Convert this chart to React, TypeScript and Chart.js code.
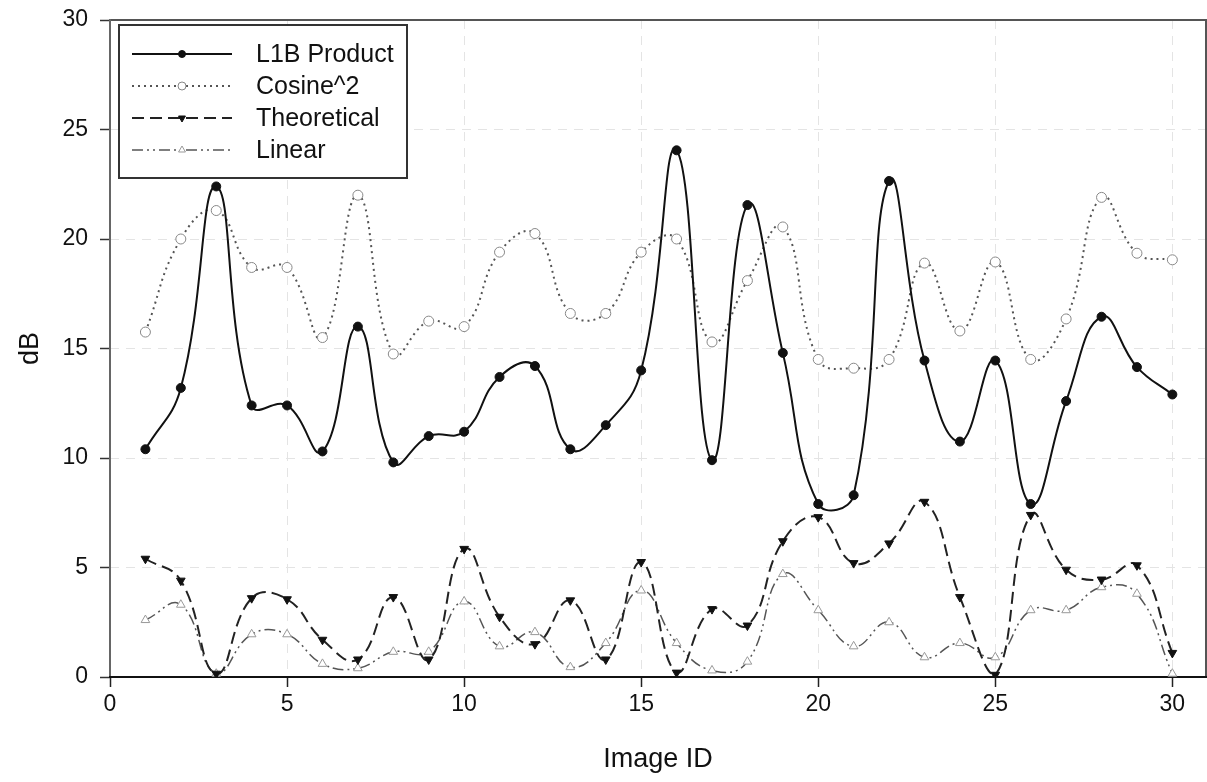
import React, { useEffect, useRef } from 'react';
import { Chart, registerables } from 'chart.js';
import { drawPoint } from 'chart.js/helpers';

Chart.register(...registerables);

const imageIds = [1, 2, 3, 4, 5, 6, 7, 8, 9, 10, 11, 12, 13, 14, 15, 16, 17, 18, 19, 20, 21, 22, 23, 24, 25, 26, 27, 28, 29, 30];
const l1bProduct = [10.4, 13.2, 22.4, 12.4, 12.4, 10.3, 16.0, 9.8, 11.0, 11.2, 13.7, 14.2, 10.4, 11.5, 14.0, 24.05, 9.9, 21.55, 14.8, 7.9, 8.3, 22.65, 14.45, 10.75, 14.45, 7.9, 12.6, 16.45, 14.15, 12.9];
const cosine2 = [15.75, 20.0, 21.3, 18.7, 18.7, 15.5, 22.0, 14.75, 16.25, 16.0, 19.4, 20.25, 16.6, 16.6, 19.4, 20.0, 15.3, 18.1, 20.55, 14.5, 14.1, 14.5, 18.9, 15.8, 18.95, 14.5, 16.35, 21.9, 19.35, 19.05];
const theoretical = [5.4, 4.4, 0.15, 3.6, 3.55, 1.7, 0.8, 3.65, 0.8, 5.85, 2.75, 1.5, 3.5, 0.8, 5.25, 0.2, 3.1, 2.35, 6.2, 7.3, 5.2, 6.1, 8.0, 3.65, 0.1, 7.4, 4.9, 4.45, 5.1, 1.1];
const linear = [2.6, 3.3, 0.15, 1.95, 1.95, 0.6, 0.4, 1.15, 1.15, 3.45, 1.4, 2.05, 0.45, 1.55, 3.95, 1.55, 0.3, 0.7, 4.7, 3.05, 1.4, 2.5, 0.9, 1.55, 0.9, 3.05, 3.05, 4.1, 3.8, 0.15];
const seriesNames = ['L1B Product', 'Cosine^2', 'Theoretical', 'Linear'];
const xTickValues = [0, 5, 10, 15, 20, 25, 30];
const yTickValues = [0, 5, 10, 15, 20, 25, 30];

const FONT = '"Liberation Sans", Arial, sans-serif';

const toPoints = (ys: number[]) => ys.map((y, i) => ({ x: imageIds[i], y }));

const framePlugin = {
  id: 'frame',
  beforeDatasetsDraw(chart: any) {
    const { ctx, chartArea: a } = chart;
    ctx.save();
    ctx.lineWidth = 2;
    ctx.strokeStyle = '#555';
    ctx.beginPath();
    ctx.moveTo(a.left, a.top);
    ctx.lineTo(a.right, a.top);
    ctx.lineTo(a.right, a.bottom);
    ctx.stroke();
    ctx.strokeStyle = '#666';
    ctx.beginPath();
    ctx.moveTo(a.left, a.top - 1);
    ctx.lineTo(a.left, a.bottom);
    ctx.stroke();
    ctx.strokeStyle = '#111';
    ctx.beginPath();
    ctx.moveTo(a.left - 1, a.bottom);
    ctx.lineTo(a.right + 1, a.bottom);
    ctx.stroke();
    ctx.restore();
  },
};

const legendPlugin = {
  id: 'boxLegend',
  afterDraw(chart: any) {
    const { ctx, chartArea: a } = chart;
    const x0 = a.left + 9;
    const y0 = a.top + 5;
    const w = 288;
    const h = 153;
    ctx.save();
    ctx.fillStyle = '#fff';
    ctx.fillRect(x0, y0, w, h);
    ctx.strokeStyle = '#333';
    ctx.lineWidth = 2;
    ctx.strokeRect(x0, y0, w, h);
    chart.data.datasets.forEach((ds: any, i: number) => {
      const y = y0 + 29 + i * 32;
      const lx1 = x0 + 13;
      const lx2 = x0 + 113;
      ctx.save();
      ctx.strokeStyle = ds.borderColor;
      ctx.lineWidth = ds.borderWidth;
      ctx.setLineDash(ds.borderDash || []);
      ctx.beginPath();
      ctx.moveTo(lx1, y);
      ctx.lineTo(lx2, y);
      ctx.stroke();
      ctx.setLineDash([]);
      ctx.fillStyle = ds.pointBackgroundColor;
      ctx.strokeStyle = ds.pointBorderColor;
      ctx.lineWidth = ds.pointBorderWidth;
      drawPoint(ctx, { pointStyle: ds.pointStyle, rotation: ds.pointRotation || 0, radius: ds.pointRadius - 1, borderWidth: ds.pointBorderWidth }, (lx1 + lx2) / 2, y);
      ctx.restore();
      ctx.fillStyle = '#111';
      ctx.font = `25px ${FONT}`;
      ctx.textBaseline = 'middle';
      ctx.textAlign = 'left';
      ctx.fillText(seriesNames[i], x0 + 137, y + 1);
    });
    ctx.restore();
  },
};

export default function App() {
  const canvasRef = useRef<HTMLCanvasElement | null>(null);

  useEffect(() => {
    if (!canvasRef.current) return;
    const chart = new Chart(canvasRef.current, {
      type: 'line',
      data: {
        datasets: [
          {
            label: seriesNames[0],
            data: toPoints(l1bProduct),
            borderColor: '#111',
            borderWidth: 2,
            borderDash: [],
            tension: 0.45,
            pointStyle: 'circle',
            pointRadius: 4.5,
            pointBackgroundColor: '#111',
            pointBorderColor: '#111',
            pointBorderWidth: 1,
          },
          {
            label: seriesNames[1],
            data: toPoints(cosine2),
            borderColor: '#555',
            borderWidth: 2,
            borderDash: [2, 4],
            tension: 0.45,
            pointStyle: 'circle',
            pointRadius: 5,
            pointBackgroundColor: '#fff',
            pointBorderColor: '#888',
            pointBorderWidth: 1,
          },
          {
            label: seriesNames[2],
            data: toPoints(theoretical),
            borderColor: '#222',
            borderWidth: 2,
            borderDash: [12, 6],
            tension: 0.45,
            pointStyle: 'triangle',
            pointRotation: 180,
            pointRadius: 5,
            pointBackgroundColor: '#111',
            pointBorderColor: '#111',
            pointBorderWidth: 1,
          },
          {
            label: seriesNames[3],
            data: toPoints(linear),
            borderColor: '#555',
            borderWidth: 1.5,
            borderDash: [11, 4, 2, 4, 2, 4],
            tension: 0.45,
            pointStyle: 'triangle',
            pointRadius: 5,
            pointBackgroundColor: '#fff',
            pointBorderColor: '#999',
            pointBorderWidth: 1,
          },
        ],
      },
      options: {
        responsive: false,
        animation: false,
        layout: { autoPadding: false, padding: { top: 20, right: 1, left: 0, bottom: 0 } },
        plugins: { legend: { display: false }, tooltip: { enabled: false } },
        scales: {
          x: {
            type: 'linear',
            min: 0,
            max: 30.95,
            afterBuildTicks: (scale: any) => {
              scale.ticks = xTickValues.map((v) => ({ value: v }));
            },
            afterFit: (scale: any) => {
              scale.height = 105;
              scale.paddingLeft = 0;
              scale.paddingRight = 0;
            },
            ticks: {
              font: { family: FONT, size: 23 },
              color: '#111',
              padding: 4,
              maxRotation: 0,
              autoSkip: false,
            },
            grid: { color: '#e4e4e4', lineWidth: 1, tickLength: 10, tickColor: '#222', tickWidth: 1.5 },
            border: { display: false, dash: [9, 7] },
            title: { display: true, text: 'Image ID', font: { family: FONT, size: 27 }, color: '#111', padding: { top: 0, bottom: 6 } },
          },
          y: {
            type: 'linear',
            min: 0,
            max: 30,
            afterBuildTicks: (scale: any) => {
              scale.ticks = yTickValues.map((v) => ({ value: v }));
            },
            afterFit: (scale: any) => {
              scale.width = 110;
              scale.paddingTop = 0;
              scale.paddingBottom = 0;
            },
            ticks: {
              font: { family: FONT, size: 23 },
              color: '#111',
              padding: 12,
              autoSkip: false,
            },
            grid: { color: '#e4e4e4', lineWidth: 1, tickLength: 10, tickColor: '#333', tickWidth: 1.5 },
            border: { display: false, dash: [9, 7] },
            title: { display: true, text: 'dB', font: { family: FONT, size: 27 }, color: '#111', padding: { top: 14, bottom: 0 } },
          },
        },
      },
      plugins: [framePlugin, legendPlugin],
    } as any);
    return () => chart.destroy();
  }, []);

  return (
    <div style={{ position: 'absolute', left: 0, top: 0, width: 1207, height: 782, background: '#fff' }}>
      <canvas ref={canvasRef} width={1207} height={782} style={{ display: 'block' }} />
    </div>
  );
}
